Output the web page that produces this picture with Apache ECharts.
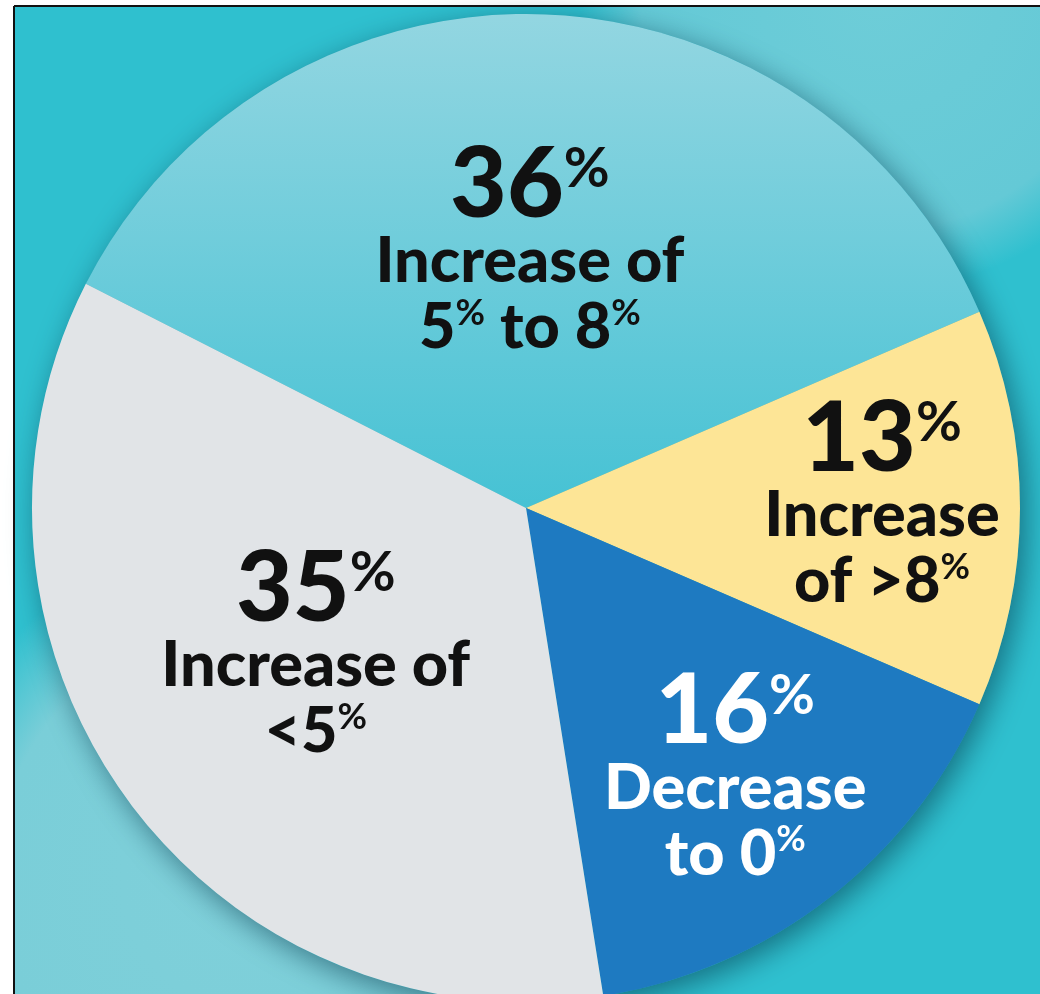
<!DOCTYPE html>
<html><head><meta charset="utf-8">
<script src="https://cdn.jsdelivr.net/npm/echarts@6/dist/echarts.min.js"></script>
<style>html,body{margin:0;padding:0;background:#fff}#c{width:1040px;height:994px}</style>
</head><body><div id="c"></div>
<script>
// ---- data ----
const categories = ['Increase of 5% to 8%', 'Increase of >8%', 'Decrease to 0%', 'Increase of <5%'];
const percents = [36, 13, 16, 35];
const captionLines = [['Increase of', '5% to 8%'], ['Increase', 'of >8%'], ['Decrease', 'to 0%'], ['Increase of', '<5%']];

// ---- styling ----
const sliceColors = [
  new echarts.graphic.LinearGradient(0, 0, 0, 1, [{offset: 0, color: '#93d6e1'}, {offset: 1, color: '#46c2d4'}]),
  '#fde596', '#1e7ac1', '#e1e4e7'
];
const textColors = ['#111', '#111', '#fff', '#111'];
const labelShift = [[-4, -7], [106, -3], [56, 72], [-8, 0]];
const FONT = 'Lato, "Open Sans", sans-serif';

function pctTokens(s, style, pstyle) {
  return s.split('%').map((p, i, a) => (p ? '{' + style + '|' + p + '}' : '') + (i < a.length - 1 ? '{' + pstyle + '|%}' : '')).join('');
}

const data = categories.map((name, i) => ({
  name: name,
  value: percents[i],
  itemStyle: {color: sliceColors[i]},
  label: {color: textColors[i]}
}));

const chart = echarts.init(document.getElementById('c'), null, {renderer: 'canvas'});
chart.setOption({
  animation: false,
  graphic: {
    elements: [
      {type: 'rect', z: 0, shape: {x: 0, y: 0, width: 1040, height: 994}, style: {fill: '#ffffff'}},
      {type: 'rect', z: 1, shape: {x: 14, y: 6, width: 1100, height: 1100}, style: {fill: '#2fc0cf'}},
      {type: 'circle', z: 2, shape: {cx: 880, cy: -10, r: 300},
        style: {fill: new echarts.graphic.RadialGradient(0.5, 0.5, 0.5, [
          {offset: 0, color: 'rgba(110,205,216,1)'}, {offset: 0.8, color: 'rgba(100,201,214,1)'}, {offset: 1, color: 'rgba(100,201,214,0)'}])}},
      {type: 'circle', z: 2, shape: {cx: 250, cy: 880, r: 340},
        style: {fill: new echarts.graphic.RadialGradient(0.5, 0.5, 0.5, [
          {offset: 0, color: 'rgba(128,208,218,1)'}, {offset: 0.75, color: 'rgba(122,206,216,1)'}, {offset: 1, color: 'rgba(122,206,216,0)'}])}},
      {type: 'rect', z: 3, shape: {x: 0, y: 0, width: 13, height: 994}, style: {fill: '#ffffff'}},
      {type: 'rect', z: 3, shape: {x: 0, y: 0, width: 1040, height: 5}, style: {fill: '#ffffff'}},
      {type: 'line', z: 4, shape: {x1: 14, y1: 6, x2: 1040, y2: 6}, style: {stroke: '#111', lineWidth: 2}},
      {type: 'line', z: 4, shape: {x1: 14, y1: 6, x2: 14, y2: 994}, style: {stroke: '#111', lineWidth: 2}}
    ]
  },
  series: [
    {
      type: 'pie', z: 5, silent: true, center: [526, 508], radius: 494,
      label: {show: false}, labelLine: {show: false},
      itemStyle: {color: '#2aa7b8', shadowBlur: 30, shadowColor: 'rgba(0,45,65,0.55)', shadowOffsetX: 6, shadowOffsetY: 8},
      data: [{value: 1, name: ''}]
    },
    {
      type: 'pie', z: 6, silent: true, center: [526, 508], radius: 494,
      startAngle: 153, clockwise: true, avoidLabelOverlap: false,
      itemStyle: {borderWidth: 0},
      labelLine: {show: false},
      label: {
        show: true, position: 'inside', fontFamily: FONT, fontWeight: 900,
        textBorderWidth: 0, align: 'center',
        formatter: p => {
          const lines = captionLines[p.dataIndex];
          return '{big|' + p.value + '}{bigPct|%}\n' + lines.map(l => pctTokens(l, 'txt', 'pct')).join('\n');
        },
        rich: {
          big: {fontFamily: FONT, fontWeight: 900, fontSize: 98, lineHeight: 88},
          bigPct: {fontFamily: FONT, fontWeight: 'bold', fontSize: 56, lineHeight: 52, verticalAlign: 'top'},
          txt: {fontFamily: FONT, fontWeight: 900, fontSize: 63, lineHeight: 66},
          pct: {fontFamily: FONT, fontWeight: 'bold', fontSize: 36, lineHeight: 36, verticalAlign: 'top'}
        }
      },
      labelLayout: p => ({dx: labelShift[p.dataIndex][0], dy: labelShift[p.dataIndex][1]}),
      data: data
    }
  ]
});
</script></body></html>
